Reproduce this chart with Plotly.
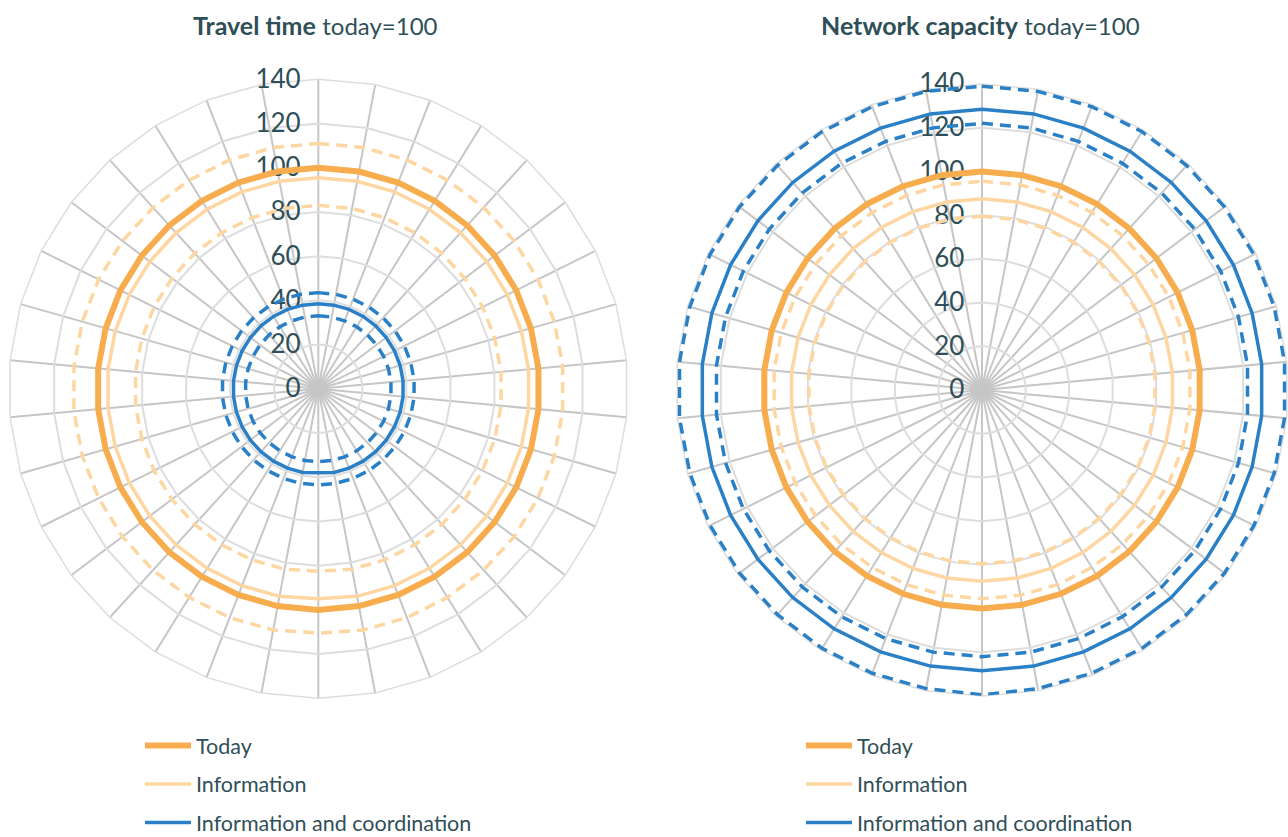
import plotly.graph_objects as go

# ---------------- data ----------------
categories = [str(i) for i in range(1, 35)]  # 34 spokes
radial_ticks = [0, 20, 40, 60, 80, 100, 120, 140]

# Travel time (today = 100)
tt_today = [100, 100, 100, 100, 100, 100, 100, 100, 100, 100, 100, 100, 100, 100, 100, 100, 100,
            100, 100, 100, 100, 100, 100, 100, 100, 100, 100, 100, 100, 100, 100, 100, 100, 100]
tt_info = [95.5, 95.5, 95.5, 95.5, 95.5, 95.5, 95.5, 95.5, 95.5, 95.5, 95.5, 95.5, 95.5, 95.5, 95.5, 95.5, 95.5,
           95, 95.5, 95.5, 95.5, 95.5, 95.5, 95.5, 95.5, 95.5, 95.5, 95.5, 95.5, 95.5, 95.5, 95.5, 95.5, 95.5]
tt_info_hi = [111, 111, 111, 111, 111, 111, 111, 111, 111, 111, 111, 111, 111, 111, 111, 111, 111,
              110.5, 111, 111, 111, 111, 111, 111, 111, 111, 111, 111, 111, 111, 111, 111, 111, 111]
tt_info_lo = [83, 83, 83, 83, 83, 83, 83, 83, 83, 83, 83, 83, 83, 83, 83, 83, 83,
              82.5, 83, 83, 83, 83, 83, 83, 83, 83, 83, 83, 83, 83, 83, 83, 83, 83]
tt_coord = [38.5, 38.5, 38.5, 38.5, 38.5, 38.5, 38.5, 38.5, 38.5, 38.5, 38.5, 38.5, 38.5, 38.5, 38.5, 38.5, 38.5,
            38, 38.5, 38.5, 38.5, 38.5, 38.5, 38.5, 38.5, 38.5, 38.5, 38.5, 38.5, 38.5, 38.5, 38.5, 38.5, 38.5]
tt_coord_hi = [43.5, 43.5, 43.5, 43.5, 43.5, 43.5, 43.5, 43.5, 43.5, 43.5, 43.5, 43.5, 43.5, 43.5, 43.5, 43.5, 43.5,
               43.5, 43.5, 43.5, 43.5, 43.5, 43.5, 43.5, 43.5, 43.5, 43.5, 43.5, 43.5, 43.5, 43.5, 43.5, 43.5, 43.5]
tt_coord_lo = [33, 33, 33, 33, 33, 33, 33, 33, 33, 33, 33, 33, 33, 33, 33, 33, 33,
               33, 33, 33, 33, 33, 33, 33, 33, 33, 33, 33, 33, 33, 33, 33, 33, 33]

# Network capacity (today = 100)
nc_today = [100, 100, 100, 100, 100, 100, 100, 100, 100, 100, 100, 100, 100, 100, 100, 100, 100,
            100, 100, 100, 100, 100, 100, 100, 100, 100, 100, 100, 100, 100, 100, 100, 100, 100]
nc_info = [87.5, 87.5, 87.5, 87.5, 87.5, 87.5, 87.5, 87.5, 87.5, 87.5, 87.5, 87.5, 87.5, 87.5, 87.5, 87.5, 87.5,
           87.5, 87.5, 87.5, 87.5, 87.5, 87.5, 87.5, 87.5, 87.5, 87.5, 87.5, 87.5, 87.5, 87.5, 87.5, 87.5, 87.5]
nc_info_hi = [95.5, 95.5, 95.5, 95.5, 95.5, 95.5, 95.5, 95.5, 95.5, 95.5, 95.5, 95.5, 95.5, 95.5, 95.5, 95.5, 95.5,
              95.5, 95.5, 95.5, 95.5, 95.5, 95.5, 95.5, 95.5, 95.5, 95.5, 95.5, 95.5, 95.5, 95.5, 95.5, 95.5, 95.5]
nc_info_lo = [79.5, 79.5, 79.5, 79.5, 79.5, 79.5, 79.5, 79.5, 79.5, 79.5, 79.5, 79.5, 79.5, 79.5, 79.5, 79.5, 79.5,
              79.5, 79.5, 79.5, 79.5, 79.5, 79.5, 79.5, 79.5, 79.5, 79.5, 79.5, 79.5, 79.5, 79.5, 79.5, 79.5, 79.5]
nc_coord = [128.5, 128.5, 128.5, 128.5, 128.5, 128.5, 128.5, 128.5, 128.5, 128.5, 128.5, 128.5, 128.5, 128.5, 128.5, 128.5, 128.5,
            128.5, 128.5, 128.5, 128.5, 128.5, 128.5, 128.5, 128.5, 128.5, 128.5, 128.5, 128.5, 128.5, 128.5, 128.5, 128.5, 128.5]
nc_coord_hi = [139, 139, 139, 139, 139, 139, 139, 139, 139, 139, 139, 139, 139, 139, 139, 139, 139,
               139.5, 139, 139, 139, 139, 139, 139, 139, 139, 139, 139, 139, 139, 139, 139, 139, 139]
nc_coord_lo = [122, 122, 122, 122, 122, 122, 122, 122, 122, 122, 122, 122, 122, 122, 122, 122, 122,
               122, 122, 122, 122, 122, 122, 122, 122, 122, 122, 122, 122, 122, 122, 122, 122, 122]

series_names = ["Today", "Information", "Information and coordination"]
titles = [("Travel time", "today=100"), ("Network capacity", "today=100")]

# ---------------- style ----------------
C_TODAY = "#F7AC4D"
C_INFO = "#FDD6A2"
C_COORD = "#2A80C6"
TXT = "#2F4F58"
SPOKE = "#C6C6C6"
RING = "#DDDDDD"
FONT = "Lato, 'Open Sans', sans-serif"
DASH = "11px,7px"


def closed(v):
    return list(v) + [v[0]]


theta = closed(categories)

fig = go.Figure()


def add_chart(polar, legend, today, info, info_hi, info_lo, coord, coord_hi, coord_lo):
    specs = [
        (info_hi, C_INFO, 3.5, DASH, None, False, "info"),
        (info_lo, C_INFO, 3.5, DASH, None, False, "info"),
        (coord_hi, C_COORD, 3.5, DASH, None, False, "coord"),
        (coord_lo, C_COORD, 3.5, DASH, None, False, "coord"),
        (today, C_TODAY, 6, "solid", series_names[0], True, "today"),
        (info, C_INFO, 3.5, "solid", series_names[1], True, "info"),
        (coord, C_COORD, 3.5, "solid", series_names[2], True, "coord"),
    ]
    for vals, col, w, dash, name, show, grp in specs:
        fig.add_trace(go.Scatterpolar(
            r=closed(vals), theta=theta, mode="lines",
            line=dict(color=col, width=w, dash=dash),
            name=name if name else grp, showlegend=show,
            legendgroup=grp + polar, legend=legend, subplot=polar,
            hoverinfo="skip",
        ))


add_chart("polar", "legend", tt_today, tt_info, tt_info_hi, tt_info_lo, tt_coord, tt_coord_hi, tt_coord_lo)
add_chart("polar2", "legend2", nc_today, nc_info, nc_info_hi, nc_info_lo, nc_coord, nc_coord_hi, nc_coord_lo)

W, H = 1288, 837


def polar_layout(cx, cy, r):
    return dict(
        domain=dict(x=[(cx - r) / W, (cx + r) / W], y=[(H - cy - r) / H, (H - cy + r) / H]),
        gridshape="linear",
        bgcolor="rgba(0,0,0,0)",
        radialaxis=dict(
            range=[0, 140], tickvals=radial_ticks, ticktext=[str(t) for t in radial_ticks],
            angle=90, tickangle=90, side="counterclockwise",
            showline=False, ticks="outside", ticklen=8, tickcolor="rgba(0,0,0,0)",
            gridcolor=RING, gridwidth=1.5,
            tickfont=dict(family=FONT, size=26, color=TXT),
            layer="below traces",
        ),
        angularaxis=dict(
            type="category", categoryarray=categories, direction="clockwise", rotation=90,
            showticklabels=False, ticks="", showline=True, linecolor=RING, linewidth=1.5,
            gridcolor=SPOKE, gridwidth=1.5, layer="below traces",
        ),
    )


def legend_layout(x):
    return dict(
        x=x / W, xanchor="left", y=-6 / H, yanchor="bottom",
        font=dict(family=FONT, size=21.5, color=TXT),
        traceorder="grouped", tracegroupgap=7.5, itemwidth=46,
        bgcolor="rgba(0,0,0,0)",
        borderwidth=0, itemclick=False, itemdoubleclick=False,
    )


fig.update_layout(
    width=W, height=H,
    margin=dict(l=0, r=0, t=0, b=0, autoexpand=False),
    paper_bgcolor="white", plot_bgcolor="white",
    polar=polar_layout(318.3, 388.8, 309.5),
    polar2=polar_layout(982, 390, 306),
    legend=legend_layout(140),
    legend2=legend_layout(801),
    showlegend=True,
)

for cx, (bold, rest) in zip([315, 980], titles):
    fig.add_annotation(
        x=cx / W, y=(H - 25) / H, xref="paper", yref="paper", xanchor="center", yanchor="middle",
        text=f"<b>{bold}</b> <span style='font-size:24px'>{rest}</span>",
        showarrow=False, font=dict(family=FONT, size=25, color=TXT),
    )

fig.write_html("out.html", config={"displayModeBar": False},
               post_script="document.body.style.margin='0';")
